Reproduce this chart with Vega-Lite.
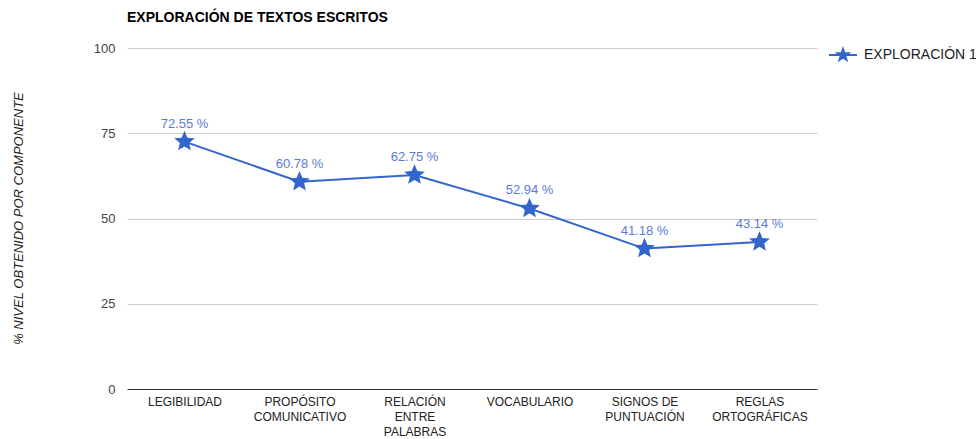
{
  "$schema": "https://vega.github.io/schema/vega-lite/v6.json",
  "width": 690,
  "height": 341,
  "autosize": {"type": "none"},
  "padding": {"left": 127, "top": 48, "right": 159, "bottom": 50},
  "background": "white",
  "title": {
    "text": "EXPLORACIÓN DE TEXTOS ESCRITOS",
    "anchor": "start",
    "frame": "group",
    "font": "Liberation Sans",
    "fontSize": 14,
    "fontWeight": "bold",
    "color": "#000000",
    "offset": 15
  },
  "data": {
    "values": [
      {"componente": "LEGIBILIDAD", "valor": 72.55, "serie": "EXPLORACIÓN 1"},
      {"componente": "PROPÓSITO COMUNICATIVO", "valor": 60.78, "serie": "EXPLORACIÓN 1"},
      {"componente": "RELACIÓN ENTRE PALABRAS", "valor": 62.75, "serie": "EXPLORACIÓN 1"},
      {"componente": "VOCABULARIO", "valor": 52.94, "serie": "EXPLORACIÓN 1"},
      {"componente": "SIGNOS DE PUNTUACIÓN", "valor": 41.18, "serie": "EXPLORACIÓN 1"},
      {"componente": "REGLAS ORTOGRÁFICAS", "valor": 43.14, "serie": "EXPLORACIÓN 1"}
    ]
  },
  "config": {
    "view": {"stroke": null},
    "font": "Liberation Sans"
  },
  "encoding": {
    "x": {
      "field": "componente",
      "type": "nominal",
      "sort": null,
      "scale": {"paddingInner": 0, "paddingOuter": 0.5},
      "axis": {
        "title": null,
        "labelAngle": 0,
        "labelFont": "Liberation Sans",
        "labelFontSize": 12,
        "labelColor": "#222222",
        "labelPadding": 7,
        "labelLineHeight": 15,
        "labelBaseline": "top",
        "domain": false,
        "ticks": false,
        "grid": false,
        "labelExpr": "datum.value == 'PROPÓSITO COMUNICATIVO' ? ['PROPÓSITO', 'COMUNICATIVO'] : datum.value == 'RELACIÓN ENTRE PALABRAS' ? ['RELACIÓN', 'ENTRE', 'PALABRAS'] : datum.value == 'SIGNOS DE PUNTUACIÓN' ? ['SIGNOS DE', 'PUNTUACIÓN'] : datum.value == 'REGLAS ORTOGRÁFICAS' ? ['REGLAS', 'ORTOGRÁFICAS'] : datum.value"
      }
    },
    "y": {
      "field": "valor",
      "type": "quantitative",
      "scale": {"domain": [0, 100], "nice": false},
      "axis": {
        "title": "% NIVEL OBTENIDO POR COMPONENTE",
        "titleFont": "Liberation Sans",
        "titleFontSize": 13,
        "titleFontStyle": "italic",
        "titleFontWeight": "normal",
        "titleColor": "#222222",
        "titleAngle": -90,
        "titleX": -109,
        "titleY": 170,
        "titleAlign": "center",
        "titleBaseline": "middle",
        "values": [0, 25, 50, 75, 100],
        "labelFont": "Liberation Sans",
        "labelFontSize": 13,
        "labelColor": "#444444",
        "labelPadding": 12,
        "domain": false,
        "ticks": false,
        "grid": true,
        "gridColor": {"condition": {"test": "datum.value == 0", "value": "#333333"}, "value": "#cccccc"},
        "gridWidth": 1
      }
    }
  },
  "layer": [
    {
      "mark": {"type": "line", "color": "#3366cc", "strokeWidth": 2},
      "encoding": {}
    },
    {
      "mark": {
        "type": "point",
        "filled": true,
        "opacity": 1,
        "size": 470,
        "shape": "M0,-1L0.2645,-0.364L0.951,-0.309L0.428,0.139L0.588,0.809L0,0.45L-0.588,0.809L-0.428,0.139L-0.951,-0.309L-0.2645,-0.364Z"
      },
      "encoding": {
        "color": {
          "field": "serie",
          "type": "nominal",
          "scale": {"range": ["#3366cc"]},
          "legend": {
            "title": null,
            "orient": "none",
            "legendX": 701,
            "legendY": -8,
            "symbolType": "M0,-0.42L0.1,-0.136L0.4,-0.13L0.16,0.052L0.247,0.34L0,0.168L-0.247,0.34L-0.16,0.052L-0.4,-0.13L-0.1,-0.136ZM-1,0L1,0",
            "symbolSize": 784,
            "symbolStrokeWidth": 2,
            "symbolStrokeColor": "#3366cc",
            "symbolFillColor": "#3366cc",
            "labelFont": "Liberation Sans",
            "labelFontSize": 14,
            "labelColor": "#222222",
            "labelOffset": 6,
            "labelLimit": 300,
            "encode": {
              "symbols": {
                "update": {
                  "fill": {"value": "#3366cc"},
                  "stroke": {"value": "#3366cc"},
                  "strokeWidth": {"value": 2},
                  "opacity": {"value": 1}
                }
              }
            }
          }
        }
      }
    },
    {
      "mark": {
        "type": "text",
        "dy": -18,
        "font": "Liberation Sans",
        "fontSize": 13,
        "color": "#5b7bd6",
        "text": {"expr": "format(datum.valor, '.2f') + ' %'"}
      },
      "encoding": {}
    }
  ]
}
